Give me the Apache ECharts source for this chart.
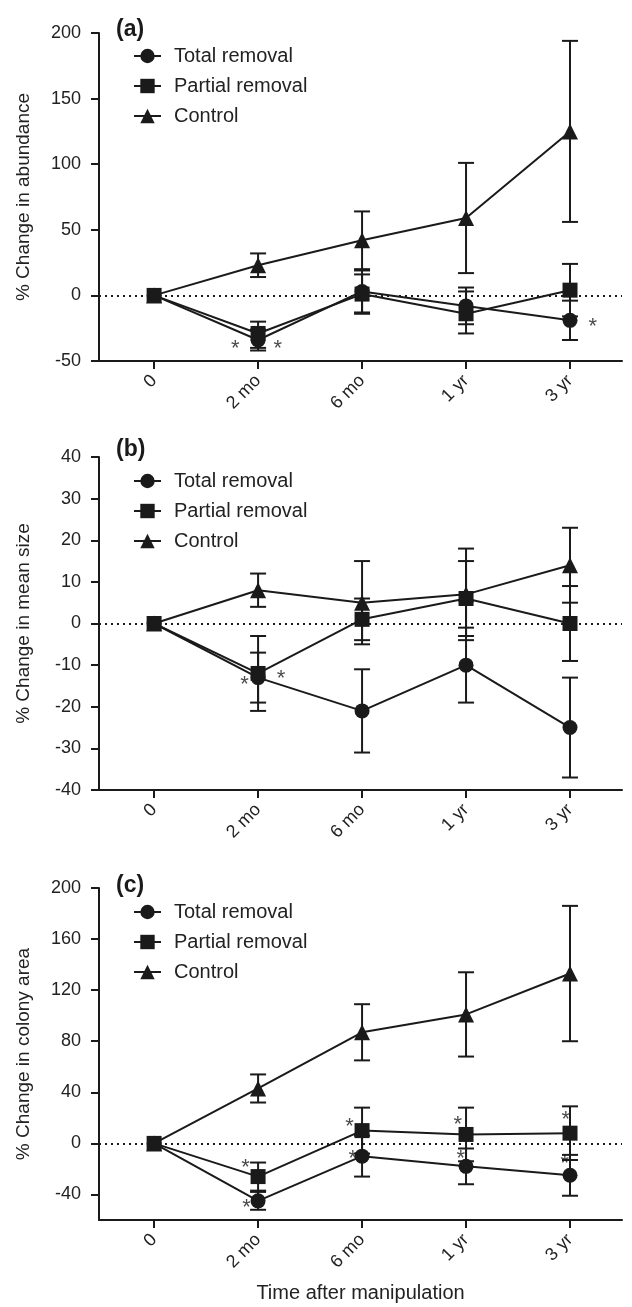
<!DOCTYPE html>
<html lang="en">
<head>
  <meta charset="UTF-8" />
  <title>% Change after manipulation</title>
  <script src="https://cdn.jsdelivr.net/npm/echarts@6/dist/echarts.min.js"></script>
  <style>
    html, body {
      margin: 0;
      padding: 0;
      background: #ffffff;
    }
    #main {
      width: 632px;
      height: 1307px;
    }
  </style>
</head>
<body>
  <div id="main"></div>
  <script>
    // time points (x index 0..4)
    const timeLabels = ['0', '2 mo', '6 mo', '1 yr', '3 yr'];
    const seriesNames = ['Total removal', 'Partial removal', 'Control'];

    // (a) abundance
    const abTotal = [0, -34, 3, -8, -19];
    const abTotalLo = [0, -42, -13, -22, -34];
    const abTotalHi = [0, -26, 19, 6, -4];
    const abPartial = [0, -29, 1, -14, 4];
    const abPartialLo = [0, -40, -14, -29, -16];
    const abPartialHi = [0, -20, 16, 3, 24];
    const abControl = [0, 23, 42, 59, 125];
    const abControlLo = [0, 14, 20, 17, 56];
    const abControlHi = [0, 32, 64, 101, 194];
    const abStars = [[0.78, -37], [1.19, -37], [4.22, -20]];

    // (b) mean size
    const szTotal = [0, -13, -21, -10, -25];
    const szTotalLo = [0, -19, -31, -19, -37];
    const szTotalHi = [0, -7, -11, -1, -13];
    const szPartial = [0, -12, 1, 6, 0];
    const szPartialLo = [0, -21, -4, -3, -9];
    const szPartialHi = [0, -3, 6, 15, 9];
    const szControl = [0, 8, 5, 7, 14];
    const szControlLo = [0, 4, -5, -4, 5];
    const szControlHi = [0, 12, 15, 18, 23];
    const szStars = [[0.87, -13.5], [1.22, -12]];

    // (c) colony area
    const arTotal = [0, -45, -10, -18, -25];
    const arTotalLo = [0, -52, -26, -32, -41];
    const arTotalHi = [0, -38, 6, -4, -9];
    const arPartial = [0, -26, 10, 7, 8];
    const arPartialLo = [0, -37, -8, -14, -13];
    const arPartialHi = [0, -15, 28, 28, 29];
    const arControl = [0, 43, 87, 101, 133];
    const arControlLo = [0, 32, 65, 68, 80];
    const arControlHi = [0, 54, 109, 134, 186];
    const arStars = [[0.88, -15], [0.89, -47], [1.88, 17], [1.91, -8],
                     [2.92, 18], [2.95, -8], [3.96, 22], [3.95, -12]];

    const font = '"Liberation Sans", Arial, Helvetica, sans-serif';
    const ink = '#1a1a1a';

    const chart = echarts.init(document.getElementById('main'));

    function errRender(params, api) {
      const x = api.value(0);
      const lo = api.value(1);
      const hi = api.value(2);
      if (lo === hi) return;
      const top = api.coord([x, hi]);
      const bot = api.coord([x, lo]);
      const w = 8;
      const st = { stroke: ink, lineWidth: 2 };
      return {
        type: 'group',
        children: [
          { type: 'line', shape: { x1: top[0], y1: top[1], x2: bot[0], y2: bot[1] }, style: st },
          { type: 'line', shape: { x1: top[0] - w, y1: top[1], x2: top[0] + w, y2: top[1] }, style: st },
          { type: 'line', shape: { x1: bot[0] - w, y1: bot[1], x2: bot[0] + w, y2: bot[1] }, style: st }
        ]
      };
    }

    const symbols = ['circle', 'rect', 'triangle'];
    const symbolSizes = [15, 15, 16];

    function panelSeries(idx, groups, stars) {
      const out = [];
      groups.forEach(function (g, k) {
        const [mean, lo, hi] = g;
        out.push({
          type: 'custom',
          xAxisIndex: idx,
          yAxisIndex: idx,
          renderItem: errRender,
          encode: { x: 0, y: [1, 2] },
          data: mean.map(function (v, i) { return [i, lo[i], hi[i]]; }),
          silent: true,
          z: 2
        });
        const s = {
          type: 'line',
          name: seriesNames[k],
          xAxisIndex: idx,
          yAxisIndex: idx,
          data: mean.map(function (v, i) { return [i, v]; }),
          symbol: symbols[k],
          symbolSize: symbolSizes[k],
          showAllSymbol: true,
          itemStyle: { color: ink },
          lineStyle: { color: ink, width: 2 },
          z: 3
        };
        if (k === 2) {
          s.markLine = {
            silent: true,
            symbol: 'none',
            label: { show: false },
            lineStyle: { color: ink, width: 2, type: [2, 4] },
            data: [{ yAxis: 0 }],
            z: 1
          };
        }
        out.push(s);
      });
      out.push({
        type: 'scatter',
        xAxisIndex: idx,
        yAxisIndex: idx,
        symbolSize: 0,
        data: stars,
        silent: true,
        label: {
          show: true,
          position: 'inside',
          formatter: '*',
          fontSize: 22,
          color: ink,
          fontFamily: font,
          offset: [0, 5]
        },
        z: 4
      });
      return out;
    }

    const grids = [
      { left: 99, right: 10, top: 33, height: 328 },
      { left: 99, right: 10, top: 457, height: 333 },
      { left: 99, right: 10, top: 888, height: 332 }
    ];

    const tickStyle = { show: true, length: 8, lineStyle: { color: ink, width: 2 } };

    function xAxis(idx, withName) {
      const ax = {
        type: 'value',
        gridIndex: idx,
        min: -0.53,
        max: 4.5,
        axisLine: { show: true, onZero: false, lineStyle: { color: ink, width: 2 } },
        axisTick: Object.assign({ customValues: [0, 1, 2, 3, 4] }, tickStyle),
        splitLine: { show: false },
        axisLabel: {
          customValues: [0, 1, 2, 3, 4],
          formatter: function (v) { return timeLabels[Math.round(v)]; },
          rotate: 45,
          margin: 17,
          fontSize: 18,
          color: '#222',
          fontFamily: font
        }
      };
      if (withName) {
        ax.name = 'Time after manipulation';
        ax.nameLocation = 'middle';
        ax.nameGap = 63;
        ax.nameTextStyle = { fontSize: 20, color: '#222', fontFamily: font };
      }
      return ax;
    }

    function yAxis(idx, name, min, max, interval, custom) {
      const ax = {
        type: 'value',
        gridIndex: idx,
        min: min,
        max: max,
        name: name,
        nameLocation: 'middle',
        nameGap: 66,
        nameTextStyle: { fontSize: 19, color: '#222', fontFamily: font },
        axisLine: { show: true, onZero: false, lineStyle: { color: ink, width: 2 } },
        axisTick: Object.assign({}, tickStyle),
        splitLine: { show: false },
        axisLabel: { fontSize: 18, color: '#222', fontFamily: font, margin: 18 }
      };
      if (custom) {
        ax.axisTick.customValues = custom;
        ax.axisLabel.customValues = custom;
      } else {
        ax.interval = interval;
      }
      return ax;
    }

    function legend(top) {
      return {
        orient: 'vertical',
        left: 133,
        top: top,
        padding: 0,
        itemWidth: 27,
        itemHeight: 18,
        itemGap: 10,
        selectedMode: false,
        data: seriesNames,
        textStyle: { fontSize: 20, color: '#222', fontFamily: font, padding: [0, 0, 0, 8], lineHeight: 18 }
      };
    }

    function panelTitle(text, top) {
      return {
        text: text,
        left: 111,
        top: top,
        textStyle: { fontSize: 23, fontWeight: 'bold', color: ink, fontFamily: font }
      };
    }

    chart.setOption({
      animation: false,
      backgroundColor: '#ffffff',
      title: [panelTitle('(a)', 13), panelTitle('(b)', 433), panelTitle('(c)', 869)],
      legend: [legend(46), legend(471), legend(902)],
      grid: grids,
      xAxis: [xAxis(0, false), xAxis(1, false), xAxis(2, true)],
      yAxis: [
        yAxis(0, '% Change in abundance', -50, 200, 50),
        yAxis(1, '% Change in mean size', -40, 40, 10),
        yAxis(2, '% Change in colony area', -60, 200, null, [-40, 0, 40, 80, 120, 160, 200])
      ],
      series: []
        .concat(panelSeries(0, [[abTotal, abTotalLo, abTotalHi], [abPartial, abPartialLo, abPartialHi], [abControl, abControlLo, abControlHi]], abStars))
        .concat(panelSeries(1, [[szTotal, szTotalLo, szTotalHi], [szPartial, szPartialLo, szPartialHi], [szControl, szControlLo, szControlHi]], szStars))
        .concat(panelSeries(2, [[arTotal, arTotalLo, arTotalHi], [arPartial, arPartialLo, arPartialHi], [arControl, arControlLo, arControlHi]], arStars))
    });
  </script>
</body>
</html>
